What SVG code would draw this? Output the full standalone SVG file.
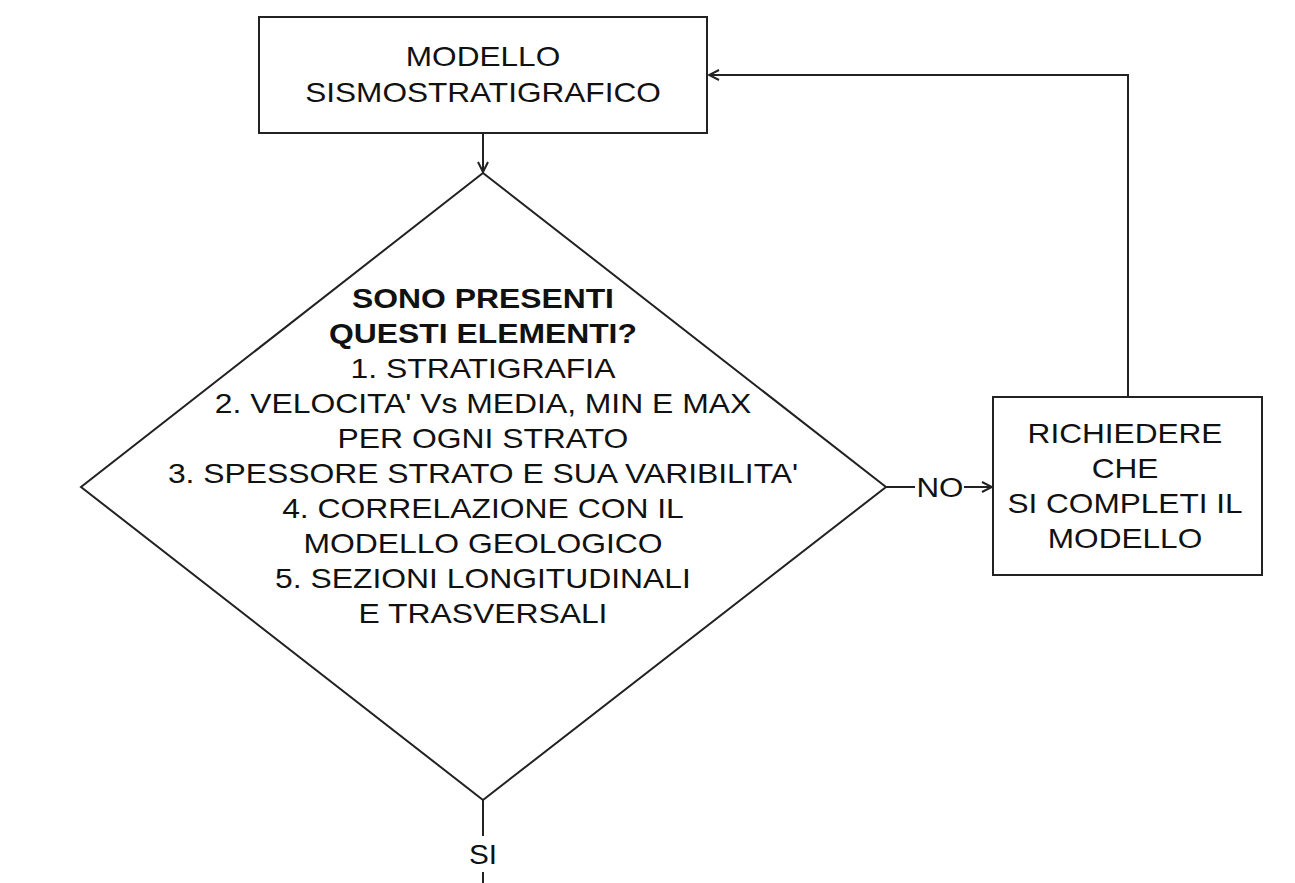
<svg xmlns="http://www.w3.org/2000/svg" width="1295" height="883" viewBox="0 0 1295 883">
<style>
.shape{fill:#fff;stroke:#222;stroke-width:2}
.ln{fill:none;stroke:#222;stroke-width:2}
text{font-family:"Liberation Sans",Arial,sans-serif;font-size:27px;fill:#111;text-anchor:middle}
.b{font-weight:bold}
</style>
<defs>
<marker id="arr" viewBox="0 0 12 12" refX="11" refY="6" markerWidth="12" markerHeight="12" markerUnits="userSpaceOnUse" orient="auto">
<path d="M1,1 L11,6 L1,11" fill="none" stroke="#222" stroke-width="2"/>
</marker>
</defs>
<rect width="1295" height="883" fill="#fff"/>
<g id="connectors">
<line class="ln" x1="483" y1="133" x2="483" y2="172" marker-end="url(#arr)"/>
<line class="ln" x1="886" y1="487" x2="915" y2="487"/>
<line class="ln" x1="964" y1="487" x2="992" y2="487" marker-end="url(#arr)"/>
<text x="940" y="497" transform="matrix(1.16,0,0,1,-150.4,0)">NO</text>
<polyline class="ln" points="1128,397 1128,75 709,75" marker-end="url(#arr)"/>
<line class="ln" x1="483" y1="800" x2="483" y2="836"/>
<text x="483" y="864" transform="matrix(1.1,0,0,1,-48.3,0)">SI</text>
<line class="ln" x1="483" y1="872" x2="483" y2="883"/>
</g>
<g id="modello">
<rect class="shape" x="259" y="17" width="448" height="116"/>
<g transform="matrix(1.17,0,0,1,-82.11,0)">
<text x="483" y="66">MODELLO</text>
<text x="483" y="102">SISMOSTRATIGRAFICO</text>
</g>
</g>
<g id="decision">
<polygon class="shape" points="483,173 886,487 483,800 81,487"/>
<g transform="matrix(1.18,0,0,1,-86.94,0)">
<text class="b" x="483" y="308">SONO PRESENTI</text>
<text class="b" x="483" y="343">QUESTI ELEMENTI?</text>
<text x="483" y="378">1. STRATIGRAFIA</text>
<text x="483" y="413">2. VELOCITA' Vs MEDIA, MIN E MAX</text>
<text x="483" y="448">PER OGNI STRATO</text>
<text x="483" y="483">3. SPESSORE STRATO E SUA VARIBILITA'</text>
<text x="483" y="518">4. CORRELAZIONE CON IL</text>
<text x="483" y="553">MODELLO GEOLOGICO</text>
<text x="483" y="588">5. SEZIONI LONGITUDINALI</text>
<text x="483" y="623">E TRASVERSALI</text>
</g>
</g>
<g id="richiedere">
<rect class="shape" x="993" y="397" width="269" height="178"/>
<g transform="matrix(1.17,0,0,1,-191.25,0)">
<text x="1125" y="443">RICHIEDERE</text>
<text x="1125" y="478">CHE</text>
<text x="1125" y="513">SI COMPLETI IL</text>
<text x="1125" y="548">MODELLO</text>
</g>
</g>
</svg>
